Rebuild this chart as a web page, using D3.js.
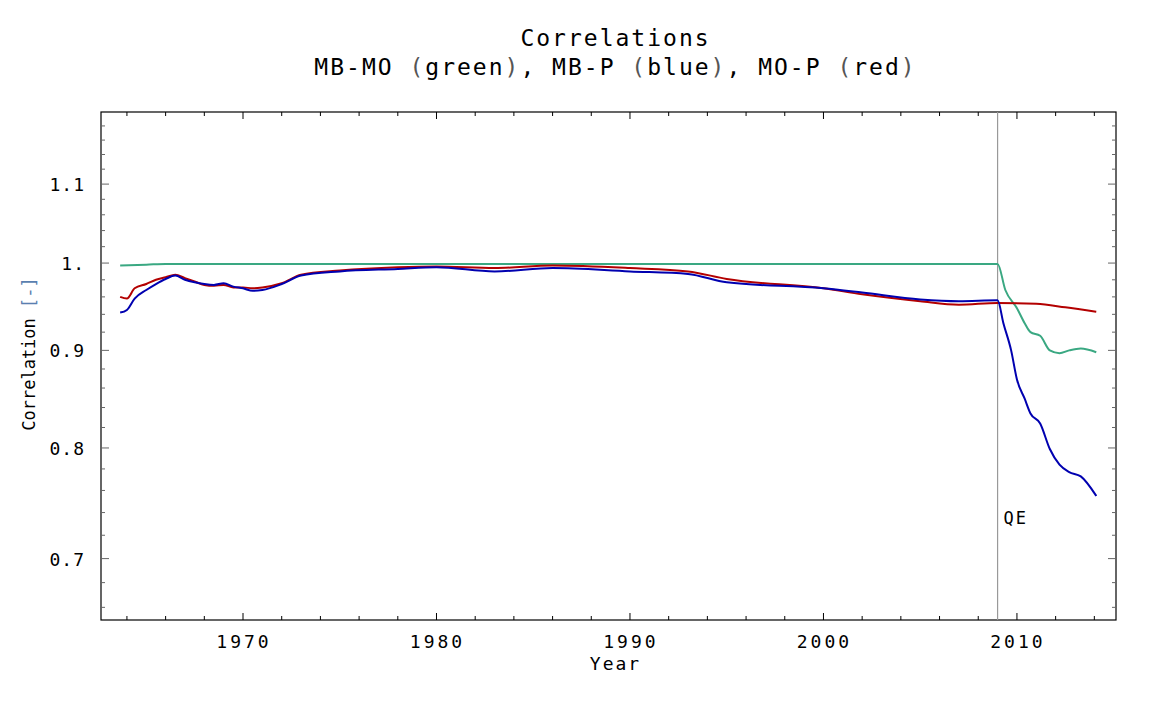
<!DOCTYPE html>
<html><head><meta charset="utf-8">
<script src="https://cdn.jsdelivr.net/npm/d3@7"></script>
<style>body{margin:0;background:#fff}text{font-family:"DejaVu Sans Mono",monospace;fill:#000}</style>
</head><body><div id="chart"></div>
<script>
// data
var greenYears = [1963.65, 1965, 1966, 1970, 1975, 1980, 1985, 1990, 2000, 2009, 2009.4, 2010, 2010.4, 2010.7, 2011.2, 2011.7, 2012.2, 2012.7, 2013.3, 2014.1];
var greenVals  = [0.997, 0.998, 0.999, 0.999, 0.999, 0.999, 0.999, 0.999, 0.999, 0.999, 0.968, 0.947, 0.93, 0.92, 0.916, 0.90, 0.897, 0.90, 0.902, 0.898];
var blueYears = [1963.65, 1964, 1964.4, 1965, 1965.5, 1966, 1966.5, 1967, 1967.5, 1968, 1968.5, 1969, 1969.5, 1970, 1970.5, 1971, 1972, 1973, 1975, 1978, 1980, 1983, 1986, 1990, 1993, 1995, 2000, 2002, 2005, 2007, 2009, 2009.3, 2009.7, 2010, 2010.4, 2010.7, 2011.2, 2011.7, 2012.2, 2012.7, 2013.3, 2014.1];
var blueVals  = [0.942, 0.945, 0.958, 0.968, 0.975, 0.981, 0.985, 0.980, 0.977, 0.975, 0.974, 0.976, 0.972, 0.970, 0.967, 0.968, 0.975, 0.985, 0.990, 0.993, 0.995, 0.990, 0.994, 0.990, 0.987, 0.977, 0.970, 0.965, 0.957, 0.955, 0.956, 0.930, 0.900, 0.869, 0.849, 0.834, 0.824, 0.799, 0.784, 0.777, 0.773, 0.755];
var redYears = [1963.65, 1964, 1964.4, 1965, 1965.5, 1966, 1966.5, 1967, 1967.5, 1968, 1968.5, 1969, 1969.5, 1970, 1970.5, 1971, 1972, 1973, 1975, 1978, 1980, 1983, 1986, 1990, 1993, 1995, 2000, 2002, 2005, 2007, 2009, 2011, 2012.5, 2014.1];
var redVals  = [0.960, 0.958, 0.970, 0.975, 0.980, 0.983, 0.986, 0.982, 0.978, 0.974, 0.973, 0.974, 0.971, 0.971, 0.970, 0.971, 0.976, 0.986, 0.991, 0.995, 0.996, 0.994, 0.997, 0.994, 0.990, 0.981, 0.970, 0.963, 0.955, 0.951, 0.953, 0.952, 0.948, 0.943];
var yTicks = [0.7, 0.8, 0.9, 1.0, 1.1];
var yTickLabels = ["0.7", "0.8", "0.9", "1.", "1.1"];
var xTicks = [1970, 1980, 1990, 2000, 2010];
var qeYear = 2009;

var margin = {top: 112, right: 36, bottom: 82, left: 101},
width = 1152 - margin.left - margin.right,
height = 702 - margin.top - margin.bottom;

var svg = d3.select("#chart").append("svg")
.attr("width", 1152).attr("height", 702)
.append("g")
.attr("transform", "translate(" + margin.left + "," + margin.top + ")");

var x = d3.scaleLinear().domain([1962.66, 2015.12]).range([0, width]);
var y = d3.scaleLog().domain([0.65, 1.2]).range([height, 0]);

// frame
svg.append("rect").attr("width", width).attr("height", height)
.attr("fill", "none").attr("stroke", "#000").attr("stroke-width", 1.2);

// x ticks (inward)
var xMinor = d3.range(1964, 2016, 2);
svg.selectAll(".xmin").data(xMinor).enter().append("line")
.attr("x1", x).attr("x2", x).attr("y1", height).attr("y2", function (d) { return height - (d % 10 == 0 ? 7 : 4); })
.attr("stroke", "#000");
svg.selectAll(".xtop").data(xMinor).enter().append("line")
.attr("x1", x).attr("x2", x).attr("y1", 0).attr("y2", function (d) { return d % 10 == 0 ? 7 : 4; })
.attr("stroke", "#000");
svg.selectAll(".xlab").data(xTicks).enter().append("text")
.attr("x", function (d) { return x(d) + 1; }).attr("y", height + 28).attr("text-anchor", "middle")
.style("font-size", "18px").style("letter-spacing", "3px").text(function (d) { return d; });

// y ticks
var yMinor = d3.range(66, 120, 2).map(function (d) { return d / 100; });
[0, width].forEach(function (side) {
  svg.selectAll(null).data(yMinor).enter().append("line")
  .attr("y1", y).attr("y2", y).attr("x1", side)
  .attr("x2", function (d) { var l = Math.abs(d * 10 - Math.round(d * 10)) < 1e-6 ? 8 : 4; return side == 0 ? l : side - l; })
  .attr("stroke", "#666");
});
svg.selectAll(".ylab").data(yTicks).enter().append("text")
.attr("x", -16).attr("y", function (d) { return y(d) + 7; }).attr("text-anchor", "end")
.style("font-size", "18px").style("letter-spacing", "1px").text(function (d, i) { return yTickLabels[i]; });

// QE line
svg.append("line").attr("x1", x(qeYear)).attr("x2", x(qeYear)).attr("y1", 0).attr("y2", height)
.attr("stroke", "#999").attr("stroke-width", 1.2);
svg.append("text").attr("x", x(qeYear) + 6).attr("y", 412)
.style("font-size", "17px").style("letter-spacing", "2px").text("QE");

// lines
var line = d3.line().curve(d3.curveMonotoneX);
function drawSeries(xs, vs, color) {
  svg.append("path")
  .datum(xs.map(function (d, i) { return [x(d), y(vs[i])]; }))
  .attr("d", line).attr("fill", "none").attr("stroke", color).attr("stroke-width", 2);
}
drawSeries(greenYears, greenVals, "#3aa882");
drawSeries(redYears, redVals, "#b30000");
drawSeries(blueYears, blueVals, "#0000b0");

// titles
svg.append("text").attr("x", width / 2 + 7).attr("y", -66).attr("text-anchor", "middle")
.style("font-size", "23px").style("letter-spacing", "2px").text("Correlations");
var t = svg.append("text").attr("x", width / 2 + 7).attr("y", -37).attr("text-anchor", "middle")
.style("font-size", "23px").style("letter-spacing", "2px");
t.append("tspan").text("MB-MO ");
t.append("tspan").style("fill", "#555").text("(");
t.append("tspan").text("green");
t.append("tspan").style("fill", "#555").text(")");
t.append("tspan").text(", MB-P ");
t.append("tspan").style("fill", "#555").text("(");
t.append("tspan").text("blue");
t.append("tspan").style("fill", "#555").text(")");
t.append("tspan").text(", MO-P ");
t.append("tspan").style("fill", "#555").text("(");
t.append("tspan").text("red");
t.append("tspan").style("fill", "#555").text(")");

svg.append("text").attr("x", width / 2 + 7).attr("y", height + 50).attr("text-anchor", "middle")
.style("font-size", "18px").style("letter-spacing", "2px").text("Year");
var yl = svg.append("text").attr("transform", "translate(-66," + (height / 2 - 12) + ")rotate(-90)")
.attr("text-anchor", "middle").style("font-size", "17px");
yl.append("tspan").text("Correlation ");
yl.append("tspan").style("fill", "#5a7fb0").text("[-]");
</script></body></html>
